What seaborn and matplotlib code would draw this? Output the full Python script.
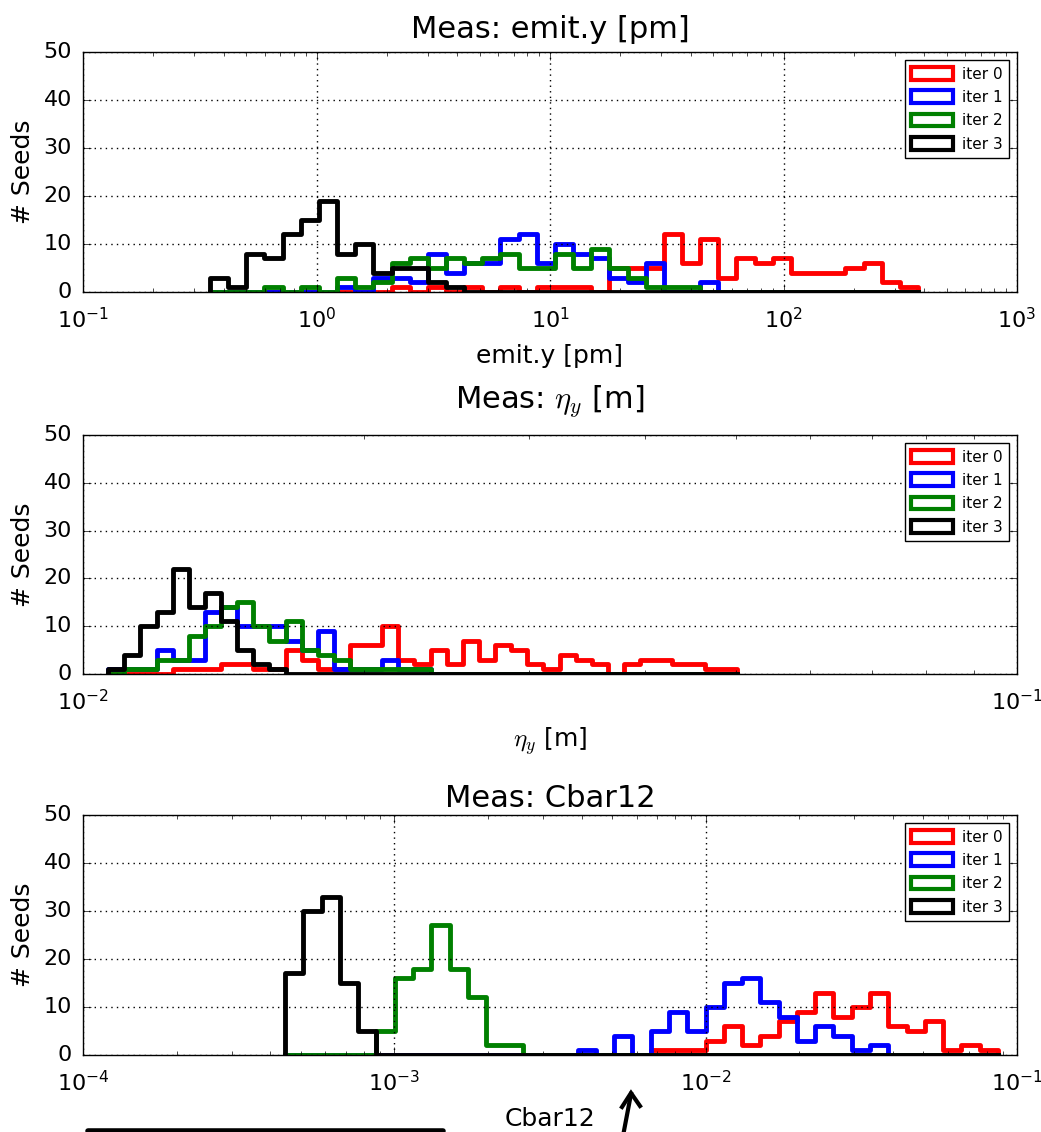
import numpy as np
import pandas as pd
import matplotlib
matplotlib.use("Agg")
import matplotlib.pyplot as plt
import seaborn as sns
from matplotlib.patches import Patch
from matplotlib.lines import Line2D

# ---------------- data ----------------
iter_labels = ["iter 0", "iter 1", "iter 2", "iter 3"]
iter_colors = ["red", "blue", "green", "black"]

# Panel 1: emit.y [pm]; 39 log-spaced bins, log10 range
emit_log_range = (-0.456, 2.576)
emit_iter0 = [0, 0, 0, 0, 0, 0, 0, 0, 0, 0, 1, 0, 1, 0, 1, 0, 1, 0, 1, 1,
              1, 0, 5, 5, 5, 12, 6, 11, 3, 7, 6, 7, 4, 4, 4, 5, 6, 2, 1]
emit_iter1 = [0, 0, 0, 0, 0, 0, 0, 1, 0, 3, 3, 2, 8, 4, 6, 6, 11, 12, 6, 10,
              8, 7, 3, 2, 6, 0, 0, 2, 0, 0, 0, 0, 0, 0, 0, 0, 0, 0, 0]
emit_iter2 = [0, 0, 0, 1, 0, 1, 0, 3, 1, 2, 6, 7, 5, 7, 6, 7, 8, 5, 5, 8,
              5, 9, 5, 3, 1, 1, 1, 0, 0, 0, 0, 0, 0, 0, 0, 0, 0, 0, 0]
emit_iter3 = [3, 1, 8, 7, 12, 15, 19, 8, 10, 4, 5, 5, 2, 1, 0, 0, 0, 0, 0, 0,
              0, 0, 0, 0, 0, 0, 0, 0, 0, 0, 0, 0, 0, 0, 0, 0, 0, 0, 0]

# Panel 2: eta_y [m]
eta_log_range = (-1.973, -1.300)
eta_iter0 = [0, 0, 0, 0, 1, 1, 1, 2, 2, 1, 1, 5, 3, 1, 1, 6, 6, 10, 3, 2,
             5, 2, 7, 3, 6, 5, 2, 1, 4, 3, 2, 0, 2, 3, 3, 2, 2, 1, 1]
eta_iter1 = [1, 1, 1, 5, 3, 3, 13, 14, 10, 10, 10, 7, 5, 9, 1, 1, 1, 3, 1, 1,
             0, 0, 0, 0, 0, 0, 0, 0, 0, 0, 0, 0, 0, 0, 0, 0, 0, 0, 0]
eta_iter2 = [0, 1, 1, 3, 3, 8, 10, 14, 15, 10, 7, 11, 5, 4, 3, 1, 1, 1, 1, 1,
             0, 0, 0, 0, 0, 0, 0, 0, 0, 0, 0, 0, 0, 0, 0, 0, 0, 0, 0]
eta_iter3 = [1, 4, 10, 13, 22, 14, 17, 11, 5, 2, 1, 0, 0, 0, 0, 0, 0, 0, 0, 0,
             0, 0, 0, 0, 0, 0, 0, 0, 0, 0, 0, 0, 0, 0, 0, 0, 0, 0, 0]

# Panel 3: Cbar12
cbar_log_range = (-3.351, -1.061)
cbar_iter0 = [0, 0, 0, 0, 0, 0, 0, 0, 0, 0, 0, 0, 0, 0, 0, 0, 0, 0, 0, 0,
              1, 1, 1, 3, 6, 2, 4, 7, 9, 13, 8, 10, 13, 6, 5, 7, 1, 2, 1]
cbar_iter1 = [0, 0, 0, 0, 0, 0, 0, 0, 0, 0, 0, 0, 0, 0, 0, 0, 1, 0, 4, 0,
              5, 9, 5, 10, 15, 16, 11, 8, 3, 6, 4, 1, 2, 0, 0, 0, 0, 0, 0]
cbar_iter2 = [0, 0, 0, 0, 0, 5, 16, 18, 27, 18, 12, 2, 2, 0, 0, 0, 0, 0, 0, 0,
              0, 0, 0, 0, 0, 0, 0, 0, 0, 0, 0, 0, 0, 0, 0, 0, 0, 0, 0]
cbar_iter3 = [17, 30, 33, 15, 5, 0, 0, 0, 0, 0, 0, 0, 0, 0, 0, 0, 0, 0, 0, 0,
              0, 0, 0, 0, 0, 0, 0, 0, 0, 0, 0, 0, 0, 0, 0, 0, 0, 0, 0]

panel_titles = ["Meas: emit.y [pm]", r"Meas: $\eta_y$ [m]", "Meas: Cbar12"]
panel_xlabels = ["emit.y [pm]", r"$\eta_y$ [m]", "Cbar12"]
panel_xlims = [(1e-1, 1e3), (1e-2, 1e-1), (1e-4, 1e-1)]
panel_ranges = [emit_log_range, eta_log_range, cbar_log_range]
panel_series = [
    [emit_iter0, emit_iter1, emit_iter2, emit_iter3],
    [eta_iter0, eta_iter1, eta_iter2, eta_iter3],
    [cbar_iter0, cbar_iter1, cbar_iter2, cbar_iter3],
]
y_ticks = [0, 10, 20, 30, 40, 50]

# ---------------- style ----------------
plt.style.use("classic")
plt.rcParams.update({
    "figure.facecolor": "white",
    "savefig.facecolor": "white",
    "font.family": ["DejaVu Sans"],
    "mathtext.fontset": "cm",
    "axes.unicode_minus": False,
    "axes.linewidth": 1.0,
    "xtick.major.size": 6, "ytick.major.size": 6,
    "xtick.minor.size": 3, "ytick.minor.size": 3,
})

W, H = 1041, 1132
fig = plt.figure(figsize=(W / 100, H / 100), dpi=100)

ax_px = [(52, 292), (435, 674), (815, 1055)]
title_pads = [10.0, 19.5, 5.5]
left_px, right_px = 83, 1017

for p in range(3):
    top, bot = ax_px[p]
    ax = fig.add_axes([left_px / W, 1 - bot / H, (right_px - left_px) / W, (bot - top) / H])
    lo, hi = panel_ranges[p]
    n = len(panel_series[p][0])
    edges_log = np.linspace(lo, hi, n + 1)
    eps = 1e-6
    bins_log = [lo - eps] + edges_log.tolist() + [hi + eps]
    centers = 10 ** (0.5 * (edges_log[:-1] + edges_log[1:]))
    for counts, lab, col in zip(panel_series[p], iter_labels, iter_colors):
        df = pd.DataFrame({"value": centers, "count": counts})
        sns.histplot(data=df, x="value", weights="count", bins=bins_log,
                     element="step", fill=False, log_scale=True,
                     color=col, linewidth=3.5, ax=ax)
    ax.set_xscale("log")
    ax.set_xlim(*panel_xlims[p])
    ax.set_ylim(0, 50)
    ax.set_yticks(y_ticks)
    ax.grid(True, which="major", color="black", linestyle=":", linewidth=1)
    ax.set_axisbelow(False)
    ax.tick_params(which="both", direction="in", top=True, right=True)
    ax.tick_params(axis="x", which="both", pad=11, labelsize=16)
    ax.tick_params(axis="y", which="both", pad=8, labelsize=16)
    ax.set_title(panel_titles[p], fontsize=22, pad=title_pads[p])
    ax.set_xlabel(panel_xlabels[p], fontsize=18, labelpad=8)
    ax.set_ylabel("# Seeds", fontsize=18, labelpad=6)
    handles = [Patch(facecolor="white", edgecolor=c, linewidth=3, label=l)
               for c, l in zip(iter_colors, iter_labels)]
    leg = ax.legend(handles=handles, loc="upper right", fontsize=11,
                    frameon=True, fancybox=False, framealpha=1,
                    edgecolor="black", handlelength=2.7, handleheight=0.9,
                    borderaxespad=0.55, labelspacing=0.55, handletextpad=0.6,
                    borderpad=0.4)
    leg.get_frame().set_linewidth(1)

# annotation marks at the bottom edge of the screenshot
fig.add_artist(Line2D([88 / W, 443 / W], [1 - 1131 / H, 1 - 1131 / H],
                      color="black", linewidth=4, solid_capstyle="round"))
fig.add_artist(Line2D([623 / W, 631 / W], [1 - 1136 / H, 1 - 1094 / H],
                      color="black", linewidth=3))
fig.add_artist(Line2D([622 / W, 631 / W, 640 / W], [1 - 1107 / H, 1 - 1093 / H, 1 - 1106 / H],
                      color="black", linewidth=3, solid_joinstyle="miter"))

fig.savefig("out.png", dpi=100)
